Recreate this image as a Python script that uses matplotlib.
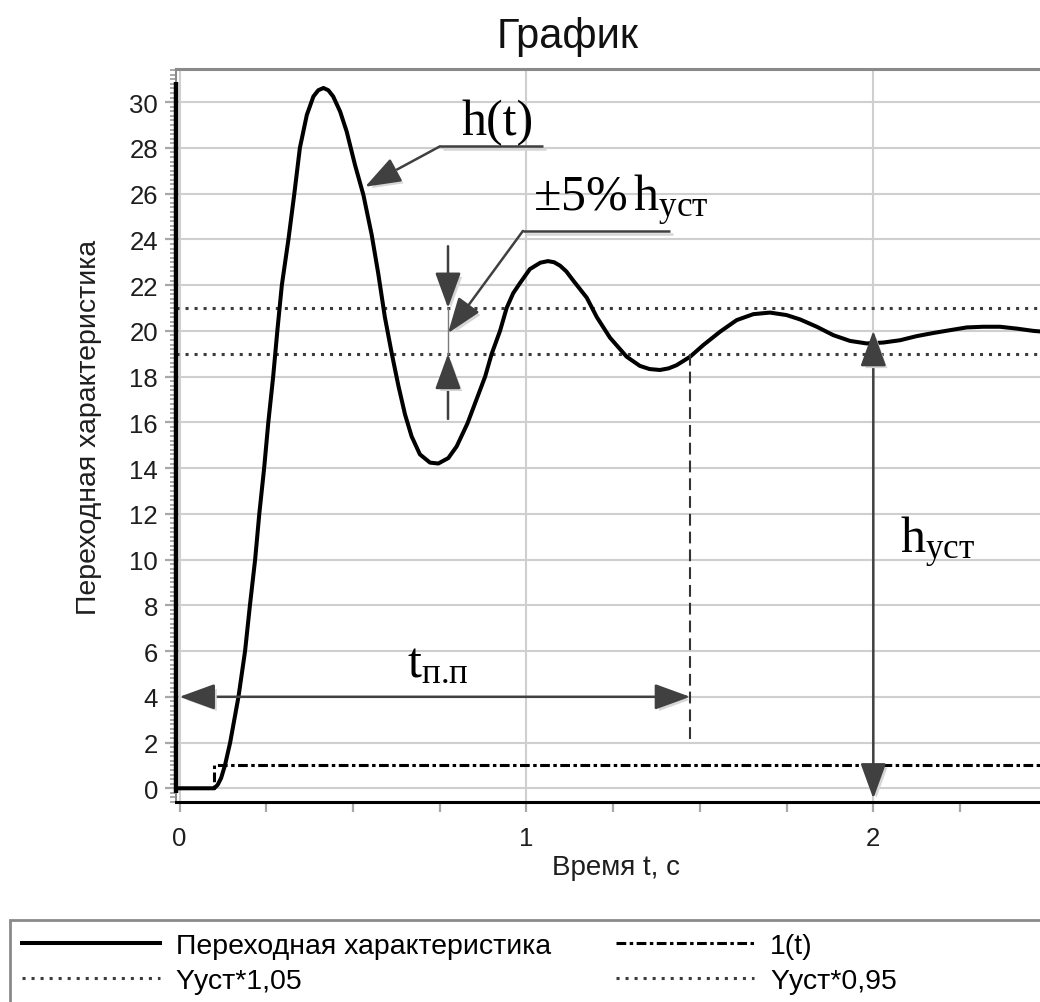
import matplotlib
matplotlib.use("Agg")
import matplotlib.pyplot as plt
import matplotlib.patheffects as pe
from matplotlib.patches import FancyArrowPatch, ArrowStyle, Rectangle
from matplotlib.lines import Line2D
from matplotlib.ticker import MultipleLocator, FuncFormatter

plt.rcParams['font.family'] = ['Liberation Sans', 'DejaVu Sans']
plt.rcParams['mathtext.fontset'] = 'custom'
plt.rcParams['mathtext.rm'] = 'Liberation Serif'
plt.rcParams['mathtext.it'] = 'Liberation Serif:italic'
plt.rcParams['lines.scale_dashes'] = False

# ---- data -------------------------------------------------------------
time_s = [0.000, 0.100, 0.110, 0.120, 0.131, 0.146, 0.170, 0.189, 0.203, 0.218,
          0.230, 0.244, 0.256, 0.270, 0.282, 0.295, 0.314, 0.331, 0.347, 0.367,
          0.386, 0.400, 0.415, 0.429, 0.443, 0.463, 0.482, 0.506, 0.530, 0.554,
          0.573, 0.592, 0.612, 0.631, 0.650, 0.669, 0.693, 0.722, 0.746, 0.775,
          0.799, 0.830, 0.881, 0.900, 0.924, 0.943, 0.962, 0.982, 1.010, 1.040,
          1.062, 1.080, 1.097, 1.115, 1.135, 1.174, 1.203, 1.241, 1.289, 1.327,
          1.355, 1.385, 1.410, 1.433, 1.472, 1.510, 1.558, 1.606, 1.654, 1.702,
          1.750, 1.789, 1.837, 1.885, 1.933, 1.981, 2.029, 2.077, 2.125, 2.174,
          2.221, 2.269, 2.317, 2.365, 2.413, 2.461, 2.500]
response = [0.00, 0.00, 0.15, 0.45, 1.00, 2.00, 4.00, 6.00, 8.00, 10.0,
            12.0, 14.0, 16.0, 18.0, 20.0, 22.0, 24.0, 26.0, 28.0, 29.44,
            30.25, 30.52, 30.62, 30.52, 30.25, 29.59, 28.71, 27.25, 25.95, 24.2,
            22.5, 20.6, 19.0, 17.6, 16.35, 15.39, 14.6, 14.24, 14.2, 14.44,
            14.95, 15.95, 18.0, 19.0, 20.0, 21.0, 21.65, 22.1, 22.7, 22.98,
            23.05, 23.0, 22.85, 22.6, 22.2, 21.45, 20.6, 19.7, 18.87, 18.47,
            18.33, 18.29, 18.36, 18.5, 18.87, 19.38, 19.96, 20.47, 20.73, 20.8,
            20.69, 20.5, 20.18, 19.81, 19.56, 19.45, 19.49, 19.59, 19.77, 19.91,
            20.03, 20.15, 20.18, 20.18, 20.10, 20.00, 19.95]

step_t = [0.0, 0.1, 0.1, 2.6]
step_y = [0.0, 0.0, 1.0, 1.0]

y_ust = 20.0          # steady-state value
t_settle = 1.472      # settling time, s
t_band_mark = 0.774   # where the ±5% band is dimensioned
t_hust_mark = 2.0     # where h_уст is dimensioned
y_tpp_mark = 4.0      # height of the settling-time dimension line

legend_labels = ['Переходная характеристика', 'Yуст*1,05', '1(t)', 'Yуст*0,95']

band_hi = y_ust * 1.05
band_lo = y_ust * 0.95

# ---- figure / axes ----------------------------------------------------
W, H = 1040, 1003
fig = plt.figure(figsize=(W / 100, H / 100), dpi=100)
ax = fig.add_axes([176 / W, 1 - 803 / H, 1 - 176 / W, (803 - 70) / H])
ax.set_xlim(-0.0101, 2.4805)
ax.set_ylim(-0.6, 31.45)

grid_c = '#cfcfcf'
ax.xaxis.set_major_locator(MultipleLocator(1))
ax.xaxis.set_minor_locator(MultipleLocator(0.25))
ax.yaxis.set_major_locator(MultipleLocator(2))
ax.yaxis.set_minor_locator(MultipleLocator(0.2))
ax.xaxis.set_major_formatter(FuncFormatter(lambda v, p: f"{v:g}"))
ax.grid(True, which='major', color=grid_c, lw=1.5, zorder=0)
ax.set_axisbelow(True)

tick_c = '#a8a8a8'
ax.tick_params(axis='both', which='major', direction='out', color=tick_c,
               width=1.6, labelsize=18.5, labelcolor='#1e1e1e')
ax.tick_params(axis='y', which='major', length=8, pad=5)
ax.tick_params(axis='y', which='minor', length=4, width=1.4, color=tick_c)
ax.tick_params(axis='x', which='major', length=7, pad=10)
ax.tick_params(axis='x', which='minor', length=7, width=1.6, color=tick_c)

ax.spines['right'].set_visible(False)
ax.spines['top'].set_color('#8a8a8a')
ax.spines['top'].set_linewidth(2.2)
ax.spines['left'].set_color('#8a8a8a')
ax.spines['left'].set_linewidth(1.5)
ax.spines['bottom'].set_color('black')
ax.spines['bottom'].set_linewidth(2.2)
# heavy value-axis line over the left frame edge
ax.plot([ax.get_xlim()[0]] * 2, [-0.2, 30.87], color='black', lw=3.2,
        solid_capstyle='butt', clip_on=False, zorder=5)

# ---- series -----------------------------------------------------------
ax.plot(time_s, response, color='black', lw=2.9, zorder=4,
        solid_joinstyle='round')
ax.plot(step_t, step_y, color='black', lw=2.2, dashes=(7, 2.5, 2.5, 2.5), zorder=3)
ax.axhline(band_hi, color='#3c3c3c', lw=2.2, dashes=(2.2, 4.3), zorder=3)
ax.axhline(band_lo, color='#3c3c3c', lw=2.2, dashes=(2.2, 4.3), zorder=3)

# ---- annotations ------------------------------------------------------
ann_c = '#404040'
shadow = [pe.withSimplePatchShadow(offset=(2.2, -2.2), shadow_rgbFace='#d6d6d6', alpha=1.0)]
line_shadow = [pe.SimpleLineShadow(offset=(2.2, -2.2), shadow_color='#d6d6d6', alpha=1.0),
               pe.Normal()]


def arrow(p0, p1, both=False, lw=1.8):
    style = ArrowStyle('<|-|>' if both else '-|>', head_length=22, head_width=8)
    a = FancyArrowPatch(p0, p1, arrowstyle=style, mutation_scale=1,
                        color=ann_c, lw=lw, shrinkA=0, shrinkB=0,
                        path_effects=shadow, zorder=6, clip_on=False)
    ax.add_patch(a)


def leader(knee, end, tip):
    ax.plot([knee[0], end[0]], [knee[1], end[1]], color=ann_c, lw=1.8,
            path_effects=line_shadow, zorder=6, solid_capstyle='butt')
    arrow(knee, tip)


serif = dict(fontsize=36, color='black', zorder=7)

# h(t) pointer
leader((0.751, 28.07), (1.048, 28.07), (0.535, 26.3))
ax.text(0.814, 28.6, 'h(t)', family='Liberation Serif', va='baseline', **serif)

# ±5 % band pointer
leader((0.990, 24.37), (1.414, 24.37), (t_band_mark, 19.9))
ax.text(1.019, 25.3, r'$\mathrm{\pm 5\%\,h}_{\mathrm{уст}}$', va='baseline', **serif)

# band width dimension
arrow((t_band_mark, 23.7), (t_band_mark, band_hi))
arrow((t_band_mark, 16.15), (t_band_mark, band_lo))
ax.plot([t_band_mark, t_band_mark], [band_lo, band_hi], color='#7a7a7a', lw=1.0, zorder=6)

# settling time
ax.plot([t_settle, t_settle], [2.15, band_lo], color='#333333', lw=1.5,
        dashes=(8.5, 4.3), zorder=5)
arrow((0.0, y_tpp_mark), (t_settle, y_tpp_mark), both=True)
ax.text(0.656, 4.92, r'$\mathrm{t}_{\text{п.п}}$', va='baseline', **serif)

# steady-state value
arrow((t_hust_mark, -0.45), (t_hust_mark, y_ust), both=True)
ax.text(2.077, 10.34, r'$\mathrm{h}_{\mathrm{уст}}$', va='baseline', **serif)

# ---- labels -----------------------------------------------------------
fig.text(568 / W, 1 - 37 / H, 'График', ha='center', va='center', fontsize=30,
         color='#111111')
ax.set_ylabel('Переходная характеристика', fontsize=20.5, color='#1e1e1e')
ax.yaxis.set_label_coords(-(176 - 102) / (W - 176), 0.513)
ax.set_xlabel('Время t, с', fontsize=20, color='#1e1e1e')
ax.xaxis.set_label_coords((616 - 176) / (W - 176), -(868 - 803) / (803 - 70))
ax.xaxis.label.set_va('center')

# ---- legend -----------------------------------------------------------
handles = [
    Line2D([], [], color='black', lw=2.9),
    Line2D([], [], color='#3c3c3c', lw=2.2, dashes=(2.2, 4.3)),
    Line2D([], [], color='black', lw=2.2, dashes=(7, 2.5, 2.5, 2.5)),
    Line2D([], [], color='#3c3c3c', lw=2.2, dashes=(2.2, 4.3)),
]
fig.legend(handles, legend_labels, loc='upper left',
           bbox_to_anchor=(22 / W, 1 - 934 / H), ncol=2, frameon=False,
           fontsize=20.5, handlelength=4.85, handletextpad=0.55,
           columnspacing=2.3, labelspacing=0.33, borderpad=0, borderaxespad=0)
fig.patches.append(Rectangle((10 / W, -0.5), 2.0, 0.5 + (1 - 921 / H),
                             transform=fig.transFigure, fill=False,
                             edgecolor='#8a8a8a', lw=2.0))

fig.savefig('out.png', dpi=100)
